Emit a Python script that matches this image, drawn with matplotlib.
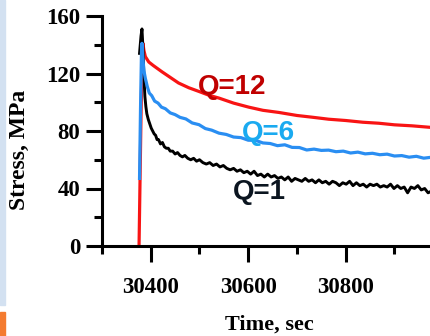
import matplotlib
matplotlib.use("Agg")
import matplotlib.pyplot as plt
from matplotlib.patches import Rectangle
from matplotlib.ticker import MultipleLocator

# stress relaxation curves
t_q12 = [30376, 30378, 30380, 30382, 30384, 30386, 30389, 30396, 30405, 30423, 30440,
         30457, 30478, 30499, 30520, 30540, 30570, 30601, 30630, 30663, 30700, 30731,
         30765, 30800, 30835, 30868, 30900, 30936, 30975]
s_q12 = [0, 45, 90, 125, 141, 136, 131.7, 128, 125.6, 121.2, 117.3,
         113.4, 110.1, 107.5, 104.8, 102.9, 99.4, 96.6, 94.4, 92.9, 90.8, 89.6,
         88.2, 87.3, 86.1, 85.4, 84.3, 83.6, 82.5]

t_q6 = [30377, 30379, 30381, 30382, 30384, 30386, 30389, 30393, 30397, 30402, 30408,
        30415, 30422, 30430, 30440, 30450, 30460, 30472, 30485, 30499, 30512, 30525,
        30540, 30555, 30570, 30585, 30600, 30615, 30630, 30645, 30660, 30675, 30690,
        30705, 30720, 30735, 30750, 30765, 30780, 30795, 30810, 30825, 30840, 30855,
        30870, 30885, 30900, 30915, 30930, 30945, 30960, 30975]
s_q6 = [47, 95, 135, 141, 130, 122, 116.5, 110.8, 106.4, 104.6, 100.8,
        99.4, 96.6, 95.5, 92.6, 91.4, 89.5, 88.4, 85.6, 84.4, 81.7, 80.6,
        78.5, 77.6, 75.8, 75.4, 73.6, 73.5, 71.7, 71.3, 69.8, 70.4, 68.6,
        68.5, 66.8, 67.4, 66.5, 66.7, 65.6, 66.0, 64.7, 65.3, 64.1, 64.5,
        63.5, 63.9, 62.6, 62.9, 61.8, 62.4, 61.1, 61.7]

t_q1 = [30377, 30380, 30382, 30384, 30386, 30388, 30390, 30392, 30395, 30398, 30401,
        30404, 30407, 30410, 30413, 30416, 30420, 30424, 30428, 30432, 30436, 30440,
        30445, 30450, 30455, 30460, 30465, 30470, 30476, 30482, 30488, 30494, 30500,
        30507, 30514, 30521, 30528, 30535, 30542, 30549, 30556, 30563, 30570, 30577,
        30584, 30591, 30598, 30605, 30612, 30619, 30626, 30633, 30640, 30647, 30654,
        30661, 30668, 30675, 30682, 30689, 30696, 30703, 30710, 30717, 30724, 30731,
        30738, 30745, 30752, 30759, 30766, 30773, 30780, 30787, 30794, 30801, 30808,
        30815, 30822, 30829, 30836, 30843, 30850, 30857, 30864, 30871, 30878, 30885,
        30892, 30899, 30906, 30913, 30920, 30927, 30934, 30941, 30948, 30955, 30962,
        30969, 30975]
s_q1 = [134, 146, 151, 138, 118, 104, 97, 92, 88, 85, 82,
        80, 78, 77, 74, 74, 71, 72, 69, 68, 68, 66,
        66, 64, 65, 63, 62, 63, 61, 60, 61, 59, 60,
        58, 57, 58, 56, 57, 55, 56, 54, 53, 54, 52,
        53, 51, 52, 50, 52, 49, 50, 48, 50, 48, 49,
        47, 48, 46, 48, 45, 47, 46, 45, 47, 45, 46,
        44, 46, 44, 45, 43, 45, 44, 42, 44, 43, 45,
        42, 44, 42, 43, 41, 43, 42, 43, 41, 42, 41,
        43, 40, 42, 40, 41, 37, 41, 40, 42, 39, 40,
        37, 38]

labels = ["Q=12", "Q=6", "Q=1"]
label_pos = [(30566, 110.6), (30642, 78.6), (30622, 37.6)]

plt.rcParams["font.family"] = ["Liberation Serif", "DejaVu Serif"]
plt.rcParams["font.weight"] = "bold"

fig = plt.figure(figsize=(4.31, 3.36), dpi=100)
fig.patches.append(Rectangle((0, 31 / 336), 5 / 431, 305 / 336, transform=fig.transFigure,
                             color="#d3e1f1", zorder=0))
fig.patches.append(Rectangle((0, 0), 5 / 431, 24 / 336, transform=fig.transFigure,
                             color="#f47b30", zorder=0))

ax = fig.add_axes([102 / 431, 90 / 336, 329 / 431, 230 / 336])
ax.plot(t_q12, s_q12, color="#f81414", lw=2.3)
ax.plot(t_q1, s_q1, color="black", lw=2.1)
ax.plot(t_q6, s_q6, color="#2a8ef2", lw=2.3)

colors = ["#c00000", "#1aaaf0", "#0b1520"]
for txt, (x, y), c in zip(labels, label_pos, colors):
    ax.text(x, y, txt, color=c, fontsize=20, fontweight="bold",
            family=["Liberation Sans", "DejaVu Sans"], ha="center", va="center")

ax.set_xlim(30300, 30975)
ax.set_ylim(0, 160)
ax.set_xticks([30400, 30600, 30800])
ax.set_xticks([30300, 30500, 30700, 30900], minor=True)
ax.yaxis.set_major_locator(MultipleLocator(40))
ax.yaxis.set_minor_locator(MultipleLocator(20))

for side in ["top", "right"]:
    ax.spines[side].set_visible(False)
for side in ["left", "bottom"]:
    ax.spines[side].set_linewidth(2.2)

ax.tick_params(which="major", length=11.5, width=2.2, labelsize=16.5)
ax.tick_params(which="minor", length=5.8, width=2.2)
ax.tick_params(axis="y", which="major", pad=4)
ax.tick_params(axis="x", which="major", pad=11)

ax.set_xlabel("Time, sec", fontsize=16, fontweight="bold", va="top")
ax.set_ylabel("Stress, MPa", fontsize=17, fontweight="bold")
ax.xaxis.set_label_coords(0.51, -0.3)
ax.yaxis.set_label_coords(-0.22, 0.417)

fig.savefig("out.png", dpi=100)
